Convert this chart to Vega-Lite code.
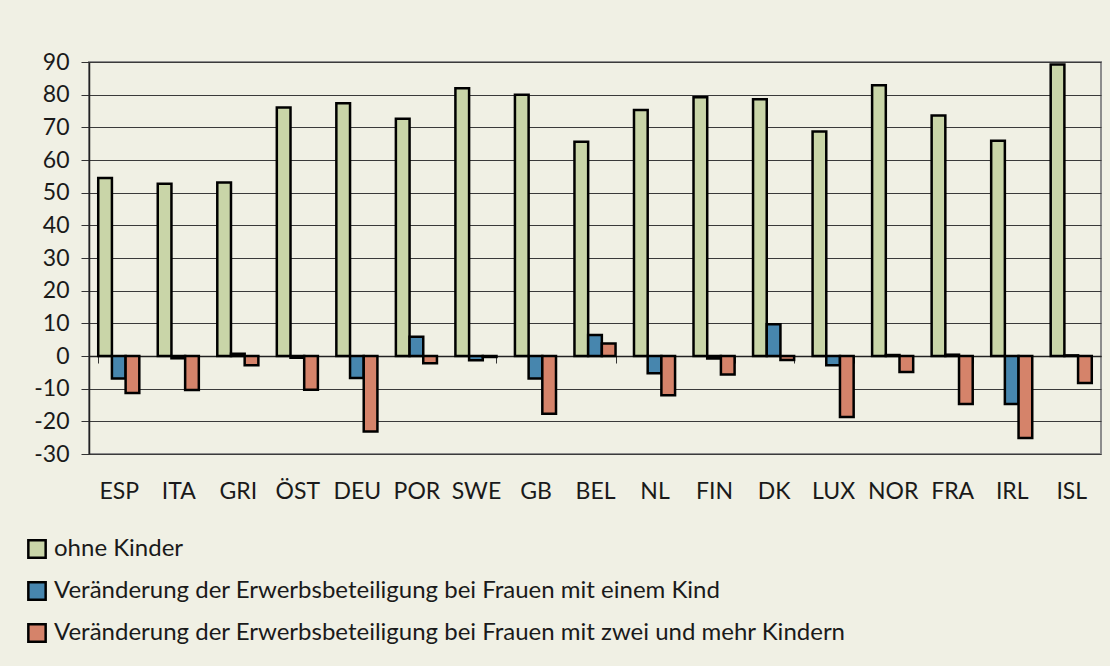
{
  "$schema": "https://vega.github.io/schema/vega-lite/v6.json",
  "width": 1012,
  "height": 392,
  "autosize": {"type": "none"},
  "padding": {"left": 89, "top": 62, "right": 9, "bottom": 212},
  "background": "#F0F0E4",
  "config": {
    "font": "Lato",
    "view": {"stroke": "#8C8C8C", "strokeWidth": 2}
  },
  "data": {
    "values": [
      {"land": "ESP", "serie": "ohne Kinder", "wert": 54.5},
      {"land": "ESP", "serie": "Veränderung der Erwerbsbeteiligung bei Frauen mit einem Kind", "wert": -6.9},
      {"land": "ESP", "serie": "Veränderung der Erwerbsbeteiligung bei Frauen mit zwei und mehr Kindern", "wert": -11.3},
      {"land": "ITA", "serie": "ohne Kinder", "wert": 52.7},
      {"land": "ITA", "serie": "Veränderung der Erwerbsbeteiligung bei Frauen mit einem Kind", "wert": -0.7},
      {"land": "ITA", "serie": "Veränderung der Erwerbsbeteiligung bei Frauen mit zwei und mehr Kindern", "wert": -10.4},
      {"land": "GRI", "serie": "ohne Kinder", "wert": 53.1},
      {"land": "GRI", "serie": "Veränderung der Erwerbsbeteiligung bei Frauen mit einem Kind", "wert": 0.7},
      {"land": "GRI", "serie": "Veränderung der Erwerbsbeteiligung bei Frauen mit zwei und mehr Kindern", "wert": -2.8},
      {"land": "ÖST", "serie": "ohne Kinder", "wert": 76.1},
      {"land": "ÖST", "serie": "Veränderung der Erwerbsbeteiligung bei Frauen mit einem Kind", "wert": -0.5},
      {"land": "ÖST", "serie": "Veränderung der Erwerbsbeteiligung bei Frauen mit zwei und mehr Kindern", "wert": -10.3},
      {"land": "DEU", "serie": "ohne Kinder", "wert": 77.4},
      {"land": "DEU", "serie": "Veränderung der Erwerbsbeteiligung bei Frauen mit einem Kind", "wert": -6.7},
      {"land": "DEU", "serie": "Veränderung der Erwerbsbeteiligung bei Frauen mit zwei und mehr Kindern", "wert": -23.1},
      {"land": "POR", "serie": "ohne Kinder", "wert": 72.6},
      {"land": "POR", "serie": "Veränderung der Erwerbsbeteiligung bei Frauen mit einem Kind", "wert": 5.9},
      {"land": "POR", "serie": "Veränderung der Erwerbsbeteiligung bei Frauen mit zwei und mehr Kindern", "wert": -2.2},
      {"land": "SWE", "serie": "ohne Kinder", "wert": 82.0},
      {"land": "SWE", "serie": "Veränderung der Erwerbsbeteiligung bei Frauen mit einem Kind", "wert": -1.3},
      {"land": "SWE", "serie": "Veränderung der Erwerbsbeteiligung bei Frauen mit zwei und mehr Kindern", "wert": -0.3},
      {"land": "GB", "serie": "ohne Kinder", "wert": 80.0},
      {"land": "GB", "serie": "Veränderung der Erwerbsbeteiligung bei Frauen mit einem Kind", "wert": -6.9},
      {"land": "GB", "serie": "Veränderung der Erwerbsbeteiligung bei Frauen mit zwei und mehr Kindern", "wert": -17.7},
      {"land": "BEL", "serie": "ohne Kinder", "wert": 65.6},
      {"land": "BEL", "serie": "Veränderung der Erwerbsbeteiligung bei Frauen mit einem Kind", "wert": 6.4},
      {"land": "BEL", "serie": "Veränderung der Erwerbsbeteiligung bei Frauen mit zwei und mehr Kindern", "wert": 3.8},
      {"land": "NL", "serie": "ohne Kinder", "wert": 75.3},
      {"land": "NL", "serie": "Veränderung der Erwerbsbeteiligung bei Frauen mit einem Kind", "wert": -5.3},
      {"land": "NL", "serie": "Veränderung der Erwerbsbeteiligung bei Frauen mit zwei und mehr Kindern", "wert": -12.0},
      {"land": "FIN", "serie": "ohne Kinder", "wert": 79.2},
      {"land": "FIN", "serie": "Veränderung der Erwerbsbeteiligung bei Frauen mit einem Kind", "wert": -0.8},
      {"land": "FIN", "serie": "Veränderung der Erwerbsbeteiligung bei Frauen mit zwei und mehr Kindern", "wert": -5.7},
      {"land": "DK", "serie": "ohne Kinder", "wert": 78.6},
      {"land": "DK", "serie": "Veränderung der Erwerbsbeteiligung bei Frauen mit einem Kind", "wert": 9.7},
      {"land": "DK", "serie": "Veränderung der Erwerbsbeteiligung bei Frauen mit zwei und mehr Kindern", "wert": -1.2},
      {"land": "LUX", "serie": "ohne Kinder", "wert": 68.7},
      {"land": "LUX", "serie": "Veränderung der Erwerbsbeteiligung bei Frauen mit einem Kind", "wert": -2.8},
      {"land": "LUX", "serie": "Veränderung der Erwerbsbeteiligung bei Frauen mit zwei und mehr Kindern", "wert": -18.7},
      {"land": "NOR", "serie": "ohne Kinder", "wert": 82.9},
      {"land": "NOR", "serie": "Veränderung der Erwerbsbeteiligung bei Frauen mit einem Kind", "wert": 0.3},
      {"land": "NOR", "serie": "Veränderung der Erwerbsbeteiligung bei Frauen mit zwei und mehr Kindern", "wert": -4.9},
      {"land": "FRA", "serie": "ohne Kinder", "wert": 73.6},
      {"land": "FRA", "serie": "Veränderung der Erwerbsbeteiligung bei Frauen mit einem Kind", "wert": 0.4},
      {"land": "FRA", "serie": "Veränderung der Erwerbsbeteiligung bei Frauen mit zwei und mehr Kindern", "wert": -14.7},
      {"land": "IRL", "serie": "ohne Kinder", "wert": 65.9},
      {"land": "IRL", "serie": "Veränderung der Erwerbsbeteiligung bei Frauen mit einem Kind", "wert": -14.7},
      {"land": "IRL", "serie": "Veränderung der Erwerbsbeteiligung bei Frauen mit zwei und mehr Kindern", "wert": -25.1},
      {"land": "ISL", "serie": "ohne Kinder", "wert": 89.2},
      {"land": "ISL", "serie": "Veränderung der Erwerbsbeteiligung bei Frauen mit einem Kind", "wert": 0.2},
      {"land": "ISL", "serie": "Veränderung der Erwerbsbeteiligung bei Frauen mit zwei und mehr Kindern", "wert": -8.3}
    ]
  },
  "mark": {"type": "bar", "stroke": "#000000", "strokeWidth": 2.5},
  "encoding": {
    "x": {
      "field": "land",
      "type": "nominal",
      "sort": null,
      "title": null,
      "scale": {"paddingInner": 0.31, "paddingOuter": 0.155},
      "axis": {
        "offset": -98,
        "labelAngle": 0,
        "tickBand": "extent",
        "tickSize": 7,
        "tickColor": "#333333",
        "domainColor": "#222222",
        "domainWidth": 1.5,
        "labelPadding": 117,
        "labelFontSize": 23,
        "labelFont": "Lato",
        "labelColor": "#1a1a1a"
      }
    },
    "xOffset": {
      "field": "serie",
      "sort": [
        "ohne Kinder",
        "Veränderung der Erwerbsbeteiligung bei Frauen mit einem Kind",
        "Veränderung der Erwerbsbeteiligung bei Frauen mit zwei und mehr Kindern"
      ],
      "scale": {"paddingInner": 0, "paddingOuter": 0}
    },
    "y": {
      "field": "wert",
      "type": "quantitative",
      "title": null,
      "scale": {"domain": [-30, 90], "nice": false},
      "axis": {
        "values": [-30, -20, -10, 0, 10, 20, 30, 40, 50, 60, 70, 80, 90],
        "labelExpr": "datum.value < 0 ? '-' + abs(datum.value) : '' + datum.value",
        "grid": true,
        "gridColor": "#3a3a3a",
        "gridWidth": 1,
        "domainColor": "#222222",
        "domainWidth": 1.5,
        "tickColor": "#333333",
        "tickSize": 8,
        "labelFontSize": 23,
        "labelFont": "Lato",
        "labelPadding": 12,
        "labelColor": "#1a1a1a"
      }
    },
    "color": {
      "field": "serie",
      "type": "nominal",
      "scale": {
        "domain": [
          "ohne Kinder",
          "Veränderung der Erwerbsbeteiligung bei Frauen mit einem Kind",
          "Veränderung der Erwerbsbeteiligung bei Frauen mit zwei und mehr Kindern"
        ],
        "range": ["#C9D5A8", "#4786AE", "#D5836A"]
      },
      "legend": {
        "title": null,
        "orient": "none",
        "legendX": -64,
        "legendY": 475,
        "direction": "vertical",
        "symbolType": "square",
        "symbolSize": 300,
        "symbolStrokeColor": "#000000",
        "symbolStrokeWidth": 2.5,
        "symbolOpacity": 1,
        "labelFontSize": 24,
        "labelFont": "Lato",
        "labelColor": "#1a1a1a",
        "labelLimit": 1100,
        "labelOffset": 5,
        "rowPadding": 14
      }
    }
  }
}
